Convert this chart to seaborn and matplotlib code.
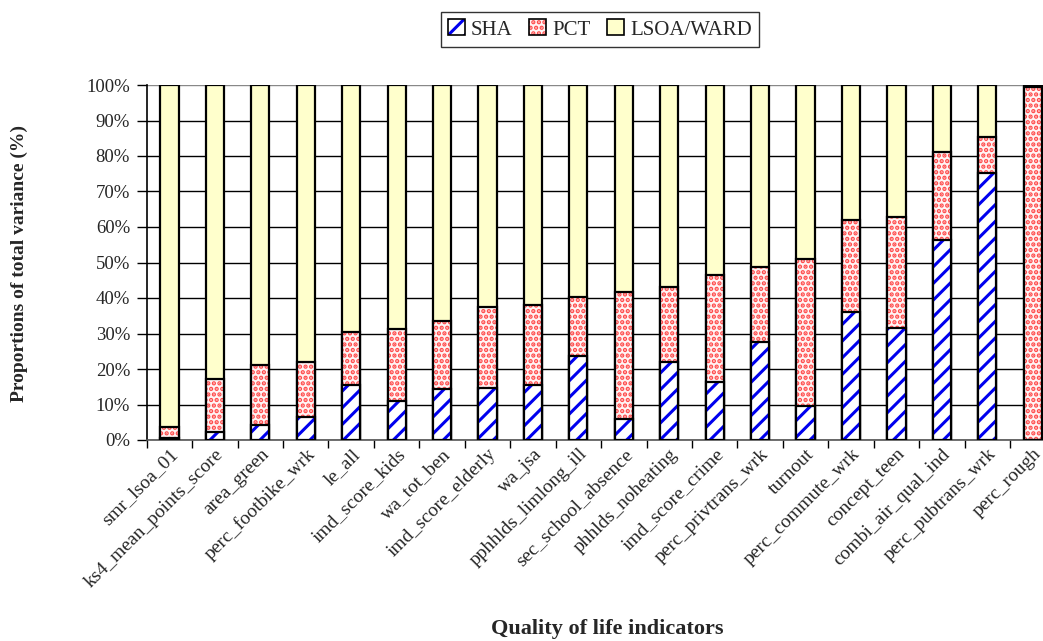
import matplotlib
matplotlib.use("Agg")
import matplotlib.pyplot as plt
from matplotlib.patches import Patch
from matplotlib.legend_handler import HandlerTuple
import seaborn as sns
import numpy as np

categories = ["smr_lsoa_01", "ks4_mean_points_score", "area_green", "perc_footbike_wrk",
              "le_all", "imd_score_kids", "wa_tot_ben", "imd_score_elderly", "wa_jsa",
              "pphhlds_limlong_ill", "sec_school_absence", "phhlds_noheating",
              "imd_score_crime", "perc_privtrans_wrk", "turnout", "perc_commute_wrk",
              "concept_teen", "combi_air_qual_ind", "perc_pubtrans_wrk", "perc_rough"]
sha = [0.5, 2.2, 4.1, 6.4, 15.5, 11.0, 14.3, 14.6, 15.5, 23.7,
       5.9, 22.0, 16.4, 27.5, 9.6, 36.1, 31.5, 56.3, 75.3, 0.0]
pct = [3.1, 15.1, 17.0, 15.6, 14.8, 20.2, 19.2, 22.8, 22.5, 16.7,
       35.9, 21.1, 30.0, 21.1, 41.3, 25.8, 31.4, 24.9, 10.0, 99.5]
lsoa = [96.4, 82.7, 78.9, 78.0, 69.7, 68.8, 66.5, 62.6, 62.0, 59.6,
        58.2, 56.9, 53.6, 51.4, 49.1, 38.1, 37.1, 18.8, 14.7, 0.5]
series_names = ["SHA", "PCT", "LSOA/WARD"]
yticks = [0, 10, 20, 30, 40, 50, 60, 70, 80, 90, 100]

sns.set_style("white")
plt.rcParams["font.family"] = ["Liberation Serif", "DejaVu Serif"]
plt.rcParams["hatch.linewidth"] = 2.2

W, H = 1043, 641
fig = plt.figure(figsize=(W / 100, H / 100), dpi=100)
left_px, right_px, top_px, bot_px = 146.7, 1055.5, 85, 440
ax = fig.add_axes([left_px / W, 1 - bot_px / H, (right_px - left_px) / W, (bot_px - top_px) / H])

sha_a = np.array(sha)
pct_a = np.array(pct)
lsoa_a = np.array(lsoa)
top_total = sha_a + pct_a + lsoa_a
mid_total = sha_a + pct_a

bw = 0.4
for t in yticks:
    ax.axhline(t, color="black" if t < 100 else "#888888", lw=1.0, zorder=0)

PCT_FACE = "#FFF4F4"
PCT_HATCH = "#FF4A4A"
SHA_HATCH = "#0000EE"

def layer(values, face, hatch, hatchcolor, z):
    n0 = len(ax.patches)
    sns.barplot(x=categories, y=list(values), ax=ax, width=bw, color=face,
                saturation=1, linewidth=0, zorder=z, errorbar=None)
    for p in ax.patches[n0:]:
        p.set_facecolor(face)
        if hatch:
            p.set_hatch(hatch)
            p.set_edgecolor(hatchcolor)
            p.set_linewidth(0)
    n1 = len(ax.patches)
    sns.barplot(x=categories, y=list(values), ax=ax, width=bw, color="white",
                saturation=1, linewidth=1.6, zorder=z + 0.5, errorbar=None)
    for p in ax.patches[n1:]:
        p.set_facecolor("none")
        p.set_edgecolor("black")
        p.set_linewidth(1.6)

layer(top_total, "#FFFFCC", None, None, 2)
layer(mid_total, PCT_FACE, "...", PCT_HATCH, 3)
layer(sha_a, "white", "//", SHA_HATCH, 4)

ax.set_xlim(-0.5, len(categories) - 0.5)
ax.set_ylim(0, 100)
ax.set_yticks(yticks)
ax.set_yticklabels([f"{t}%" for t in yticks], fontsize=13.5)
ax.set_xticks(range(len(categories)))
ax.set_xticklabels(categories, fontsize=14, rotation=45, ha="right", va="top",
                   rotation_mode="anchor")
ax.set_xticks(np.arange(-0.5, len(categories) + 0.5, 1), minor=True)
ax.tick_params(axis="x", which="major", length=0, pad=4)
ax.tick_params(axis="x", which="minor", length=6, width=1, color="black", direction="out", bottom=True)
ax.tick_params(axis="y", which="major", length=7, width=1, color="black", direction="out", left=True, pad=5)
for side in ["top", "right"]:
    ax.spines[side].set_visible(False)
ax.spines["left"].set_color("black")
ax.spines["left"].set_linewidth(1.2)
ax.spines["bottom"].set_color("#555555")
ax.spines["bottom"].set_linewidth(1.2)
ax.set_xlabel("")
ax.set_ylabel("")

fig.text(19 / W, 1 - 264 / H, "Proportions of total variance (%)", rotation=90,
         ha="center", va="center", fontsize=14, fontweight="bold")
fig.text(607 / W, 1 - 629 / H, "Quality of life indicators", ha="center", va="center",
         fontsize=16, fontweight="bold")

def outline():
    return Patch(facecolor="none", edgecolor="black", linewidth=1.2)

handles = [(Patch(facecolor="white", edgecolor=SHA_HATCH, hatch="//", linewidth=0), outline()),
           (Patch(facecolor=PCT_FACE, edgecolor=PCT_HATCH, hatch="...", linewidth=0), outline()),
           (Patch(facecolor="#FFFFCC", linewidth=0), outline())]
leg = fig.legend(handles, series_names, loc="center", bbox_to_anchor=(600 / W, 1 - 29.5 / H),
                 ncol=3, fontsize=15, frameon=True, fancybox=False, handlelength=0.8,
                 handleheight=0.8, handletextpad=0.3, columnspacing=0.8, borderpad=0.35,
                 handler_map={tuple: HandlerTuple(ndivide=1, pad=0)})
leg.get_frame().set_edgecolor("black")
leg.get_frame().set_linewidth(1.0)

fig.savefig("out.png", dpi=100)
